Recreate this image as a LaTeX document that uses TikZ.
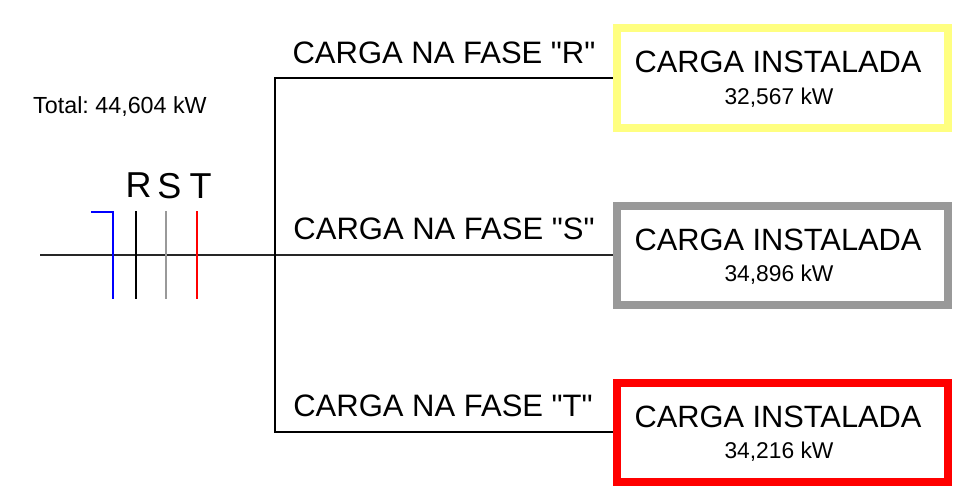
\documentclass[tikz,border=0pt]{standalone}
\usepackage{fontspec}
\setmainfont{Liberation Sans}
\newfontfamily\rawfont{Liberation Sans}
\usetikzlibrary{positioning}
\begin{document}
\begin{tikzpicture}[x=1pt,y=-1pt,semithick]
 \tikzstyle{wire}=[draw, line width=1.5pt, black!85]
 \tikzstyle{tap}=[line width=1.5pt]
 \tikzstyle{lbl}=[inner sep=0pt, font=\fontsize{30.8}{34}\selectfont]
 \tikzstyle{fase}=[inner sep=0pt, font=\rawfont\fontsize{31}{34}\selectfont]
 \tikzstyle{val}=[inner sep=0pt, font=\fontsize{22.8}{26}\selectfont]
 \tikzstyle{letra}=[inner sep=0pt, font=\fontsize{36}{40}\selectfont]
 \tikzstyle{cargabox}=[draw, fill=white, minimum width=331pt, minimum height=99pt, line width=8pt]
 \definecolor{amarelo}{RGB}{255,255,128}
 \definecolor{cinza}{RGB}{153,153,153}
 \definecolor{vermelho}{RGB}{255,0,0}
 \useasboundingbox (0,0) rectangle (956,495);
 \node[cargabox, draw=amarelo] (boxR) at (782,78) {};
 \node[cargabox, draw=cinza] (boxS) at (782,255) {};
 \node[cargabox, draw=vermelho] (boxT) at (782,432) {};
 \node[lbl] (cargaR) at (778,62) {CARGA INSTALADA};
 \node[val] (valR) at (779,98) {32,567 kW};
 \node[lbl] (cargaS) at (778,240) {CARGA INSTALADA};
 \node[val] (valS) at (779,275) {34,896 kW};
 \node[lbl] (cargaT) at (778,417) {CARGA INSTALADA};
 \node[val] (valT) at (779,452) {34,216 kW};
 \node[fase] (faseR) at (444,53) {CARGA NA FASE "R"};
 \node[fase] (faseS) at (444,229) {CARGA NA FASE "S"};
 \node[fase] (faseT) at (443,406) {CARGA NA FASE "T"};
 \node[val, font=\fontsize{23.3}{26}\selectfont] (total) at (120,107) {\frenchspacing Total: 44,604 kW};
 \node[letra] (letR) at (138.5,185) {R};
 \node[letra] (letS) at (169.5,186) {S};
 \node[letra] (letT) at (200.5,186) {T};
 \coordinate (barL) at (40,255);
 \coordinate (busTop) at (275,78);
 \coordinate (busBot) at (275,432);
 \coordinate (tapN0) at (91,212);
 \coordinate (tapN1) at (113,212);
 \coordinate (tapN2) at (113,299);
 \coordinate (tapR1) at (136,211);
 \coordinate (tapR2) at (136,299);
 \coordinate (tapS1) at (166,211);
 \coordinate (tapS2) at (166,299);
 \coordinate (tapT1) at (197,211);
 \coordinate (tapT2) at (197,299);
 \draw[wire] (barL) -- (boxS.west);
 \draw[wire, black] (boxR.west) -- (busTop) -- (busBot) -- (boxT.west);
 \draw[tap, blue] (tapN0) -- (tapN1) -- (tapN2);
 \draw[tap, black] (tapR1) -- (tapR2);
 \draw[tap, cinza] (tapS1) -- (tapS2);
 \draw[tap, vermelho] (tapT1) -- (tapT2);
\end{tikzpicture}
\end{document}
